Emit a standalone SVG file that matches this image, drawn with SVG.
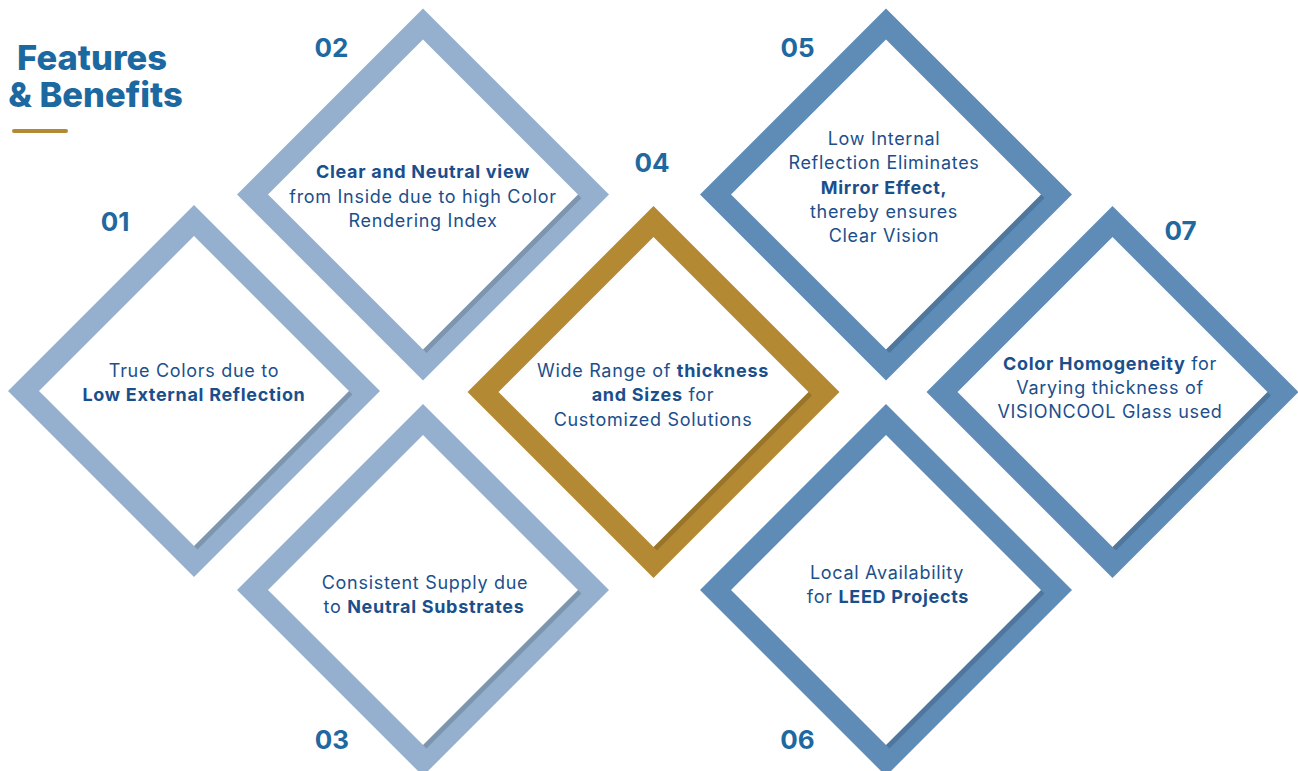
<svg xmlns="http://www.w3.org/2000/svg" xmlns:xlink="http://www.w3.org/1999/xlink" width="1298" height="771" viewBox="0 0 1298 771">
<style>
  .t { font-family: Inter, "Noto Sans", "Liberation Sans", sans-serif; font-size: 18px; letter-spacing: 0.7px; fill: #1b4f8c; text-anchor: middle; }
  .b { font-weight: 700; }
  .num { font-family: Inter, "Noto Sans", "Liberation Sans", sans-serif; font-size: 26px; font-weight: 700; fill: #1f68a0; text-anchor: middle; }
  .title { font-family: Inter, "Noto Sans", "Liberation Sans", sans-serif; font-size: 34.5px; font-weight: 800; fill: #1c68a0; text-anchor: middle; }
  .light .band { fill: #95b0ce; } .light .shadow { fill: #7e95b0; }
  .mid .band { fill: #5e8cb6; } .mid .shadow { fill: #4f769c; }
  .gold .band { fill: #b38a33; } .gold .shadow { fill: #997528; }
  .inner { fill: #ffffff; }
</style>
<defs>
  <polygon id="outer" points="0,-186 186,0 0,186 -186,0"/>
  <polygon id="inner" points="0,-155 155,0 0,155 -155,0"/>
</defs>
<rect width="1298" height="771" fill="#ffffff"/>

<g id="title">
  <text class="title" x="92" y="70">Features</text>
  <text class="title" x="95.5" y="107">&amp; Benefits</text>
  <rect x="12" y="129" width="56" height="4" rx="2" fill="#b38a33"/>
</g>

<g id="node-01" class="light">
  <g transform="translate(194,391)">
    <use href="#outer" class="band"/>
    <use href="#inner" class="shadow" x="3.5" y="3.5"/>
    <use href="#inner" class="inner"/>
  </g>
  <text class="num" x="115" y="231">01</text>
  <text class="t" x="194" y="377">True Colors due to</text>
  <text class="t b" x="194" y="401">Low External Reflection</text>
</g>

<g id="node-02" class="light">
  <g transform="translate(423,194.5)">
    <use href="#outer" class="band"/>
    <use href="#inner" class="shadow" x="3.5" y="3.5"/>
    <use href="#inner" class="inner"/>
  </g>
  <text class="num" x="331.5" y="57">02</text>
  <text class="t b" x="423" y="178">Clear and Neutral view</text>
  <text class="t" x="423" y="202.5">from Inside due to high Color</text>
  <text class="t" x="423" y="227">Rendering Index</text>
</g>

<g id="node-03" class="light">
  <g transform="translate(423,590)">
    <use href="#outer" class="band"/>
    <use href="#inner" class="shadow" x="3.5" y="3.5"/>
    <use href="#inner" class="inner"/>
  </g>
  <text class="num" x="332" y="749">03</text>
  <text class="t" x="425" y="589">Consistent Supply due</text>
  <text class="t" x="424" y="613">to <tspan class="b">Neutral Substrates</tspan></text>
</g>

<g id="node-04" class="gold">
  <g transform="translate(653.5,392)">
    <use href="#outer" class="band"/>
    <use href="#inner" class="shadow" x="3.5" y="3.5"/>
    <use href="#inner" class="inner"/>
  </g>
  <text class="num" x="652" y="172">04</text>
  <text class="t" x="653" y="377">Wide Range of <tspan class="b">thickness</tspan></text>
  <text class="t" x="653" y="401"><tspan class="b">and Sizes</tspan> for</text>
  <text class="t" x="653" y="425.5">Customized Solutions</text>
</g>

<g id="node-05" class="mid">
  <g transform="translate(886,194.5)">
    <use href="#outer" class="band"/>
    <use href="#inner" class="shadow" x="3.5" y="3.5"/>
    <use href="#inner" class="inner"/>
  </g>
  <text class="num" x="797.5" y="57">05</text>
  <text class="t" x="884" y="145">Low Internal</text>
  <text class="t" x="884" y="169">Reflection Eliminates</text>
  <text class="t b" x="884" y="193.5">Mirror Effect,</text>
  <text class="t" x="884" y="218">thereby ensures</text>
  <text class="t" x="884" y="242">Clear Vision</text>
</g>

<g id="node-06" class="mid">
  <g transform="translate(886,590)">
    <use href="#outer" class="band"/>
    <use href="#inner" class="shadow" x="3.5" y="3.5"/>
    <use href="#inner" class="inner"/>
  </g>
  <text class="num" x="797.5" y="749">06</text>
  <text class="t" x="887" y="579">Local Availability</text>
  <text class="t" x="888" y="603">for <tspan class="b">LEED Projects</tspan></text>
</g>

<g id="node-07" class="mid">
  <g transform="translate(1112.5,392)">
    <use href="#outer" class="band"/>
    <use href="#inner" class="shadow" x="3.5" y="3.5"/>
    <use href="#inner" class="inner"/>
  </g>
  <text class="num" x="1180.5" y="240">07</text>
  <text class="t" x="1110" y="370"><tspan class="b">Color Homogeneity</tspan> for</text>
  <text class="t" x="1110" y="394">Varying thickness of</text>
  <text class="t" x="1110" y="418">VISIONCOOL Glass used</text>
</g>

<g id="connectors"></g>
</svg>
